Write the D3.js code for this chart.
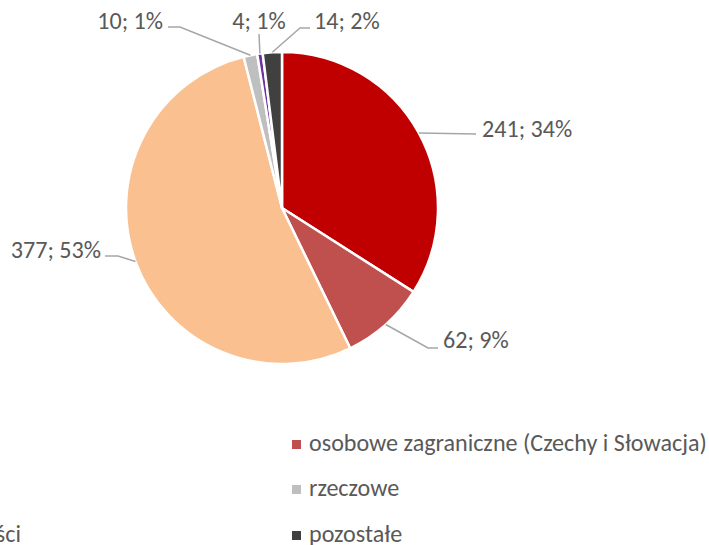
<!DOCTYPE html>
<html>
<head>
<meta charset="utf-8">
<script src="https://cdn.jsdelivr.net/npm/d3@7"></script>
<style>
  body { margin: 0; background: #fff; }
  svg { display: block; }
</style>
</head>
<body>
<svg id="chart" width="709" height="545"></svg>
<script>
const width = 709;
const height = 545;

// data
const categories = ['krajowe', 'osobowe zagraniczne (Czechy i Słowacja)', 'listowe', 'rzeczowe', 'kosztowności', 'pozostałe'];
const values = [241, 62, 377, 10, 4, 14];
const colors = ['#c00000', '#c0504d', '#fac090', '#bfbfbf', '#7030a0', '#404040'];

// label layout (elbow point, text anchor point)
const labelLayout = [
  { elbow: [476, 134], end: [476, 134], tx: 482, ty: 137, anchor: 'start' },
  { elbow: [428, 348], end: [438, 348], tx: 443, ty: 348, anchor: 'start' },
  { elbow: [118, 256], end: [105, 256], tx: 101, ty: 258, anchor: 'end' },
  { elbow: [180, 27],  end: [168, 27],  tx: 163, ty: 29,  anchor: 'end' },
  { elbow: [259, 34],  end: [259, 34],  tx: 259, ty: 29,  anchor: 'middle' },
  { elbow: [300, 28],  end: [310, 28],  tx: 314, ty: 29,  anchor: 'start' }
];

const cx = 282, cy = 208, radius = 156;
const textColor = '#595959';
const lineColor = '#a6a6a6';
const fontFamily = 'Carlito, "Open Sans", sans-serif';

const svg = d3.select('#chart');

// fit the font so the long legend entry is as wide as in the picture
const probe = svg.append('text')
  .attr('font-family', fontFamily)
  .attr('font-size', 20)
  .text(categories[1]);
const w = probe.node().getComputedTextLength();
probe.remove();
const fontSize = 20 * 398 / w;

const total = d3.sum(values);
const data = values.map((v, i) => ({ value: v, cat: categories[i], color: colors[i], i }));

const pie = d3.pie().sort(null).value(d => d.value);
const arcs = pie(data);

const arcGen = d3.arc().innerRadius(0).outerRadius(radius);
const edgeArc = d3.arc().innerRadius(radius).outerRadius(radius);

const g = svg.append('g').attr('transform', `translate(${cx},${cy})`);

g.selectAll('path')
  .data(arcs)
  .enter()
  .append('path')
  .attr('d', arcGen)
  .attr('fill', d => d.data.color)
  .attr('stroke', '#fff')
  .attr('stroke-width', 2.5)
  .attr('stroke-linejoin', 'round');

// leader lines
svg.append('g').selectAll('polyline')
  .data(arcs)
  .enter()
  .append('polyline')
  .attr('fill', 'none')
  .attr('stroke', lineColor)
  .attr('stroke-width', 1.5)
  .attr('points', d => {
    const c = edgeArc.centroid(d);
    const l = labelLayout[d.index];
    return [[cx + c[0], cy + c[1]], l.elbow, l.end].map(p => p.join(',')).join(' ');
  });

// data labels
svg.append('g').selectAll('text')
  .data(arcs)
  .enter()
  .append('text')
  .attr('x', d => labelLayout[d.index].tx)
  .attr('y', d => labelLayout[d.index].ty)
  .attr('text-anchor', d => labelLayout[d.index].anchor)
  .attr('font-family', fontFamily)
  .attr('font-size', fontSize)
  .attr('fill', textColor)
  .text(d => `${d.data.value}; ${Math.round(d.data.value / total * 100)}%`);

// legend: two columns, the left one runs off the picture
const legendRowY = [444, 489, 535];
const rightX = 292;
const legend = svg.append('g');

const leftProbe = svg.append('text')
  .attr('font-family', fontFamily)
  .attr('font-size', fontSize)
  .text(categories[4]);
const leftW = leftProbe.node().getComputedTextLength();
leftProbe.remove();
const leftTextX = 21 - leftW;

data.forEach((d, i) => {
  const row = Math.floor(i / 2);
  const col = i % 2;
  const tx = col === 1 ? rightX + 17 : leftTextX;
  const mx = tx - 17;
  const y = legendRowY[row];
  legend.append('rect')
    .attr('x', mx)
    .attr('y', y - 4)
    .attr('width', 9)
    .attr('height', 9)
    .attr('fill', d.color);
  legend.append('text')
    .attr('x', tx)
    .attr('y', y + 7)
    .attr('font-family', fontFamily)
    .attr('font-size', fontSize)
    .attr('fill', textColor)
    .text(d.cat);
});
</script>
</body>
</html>
